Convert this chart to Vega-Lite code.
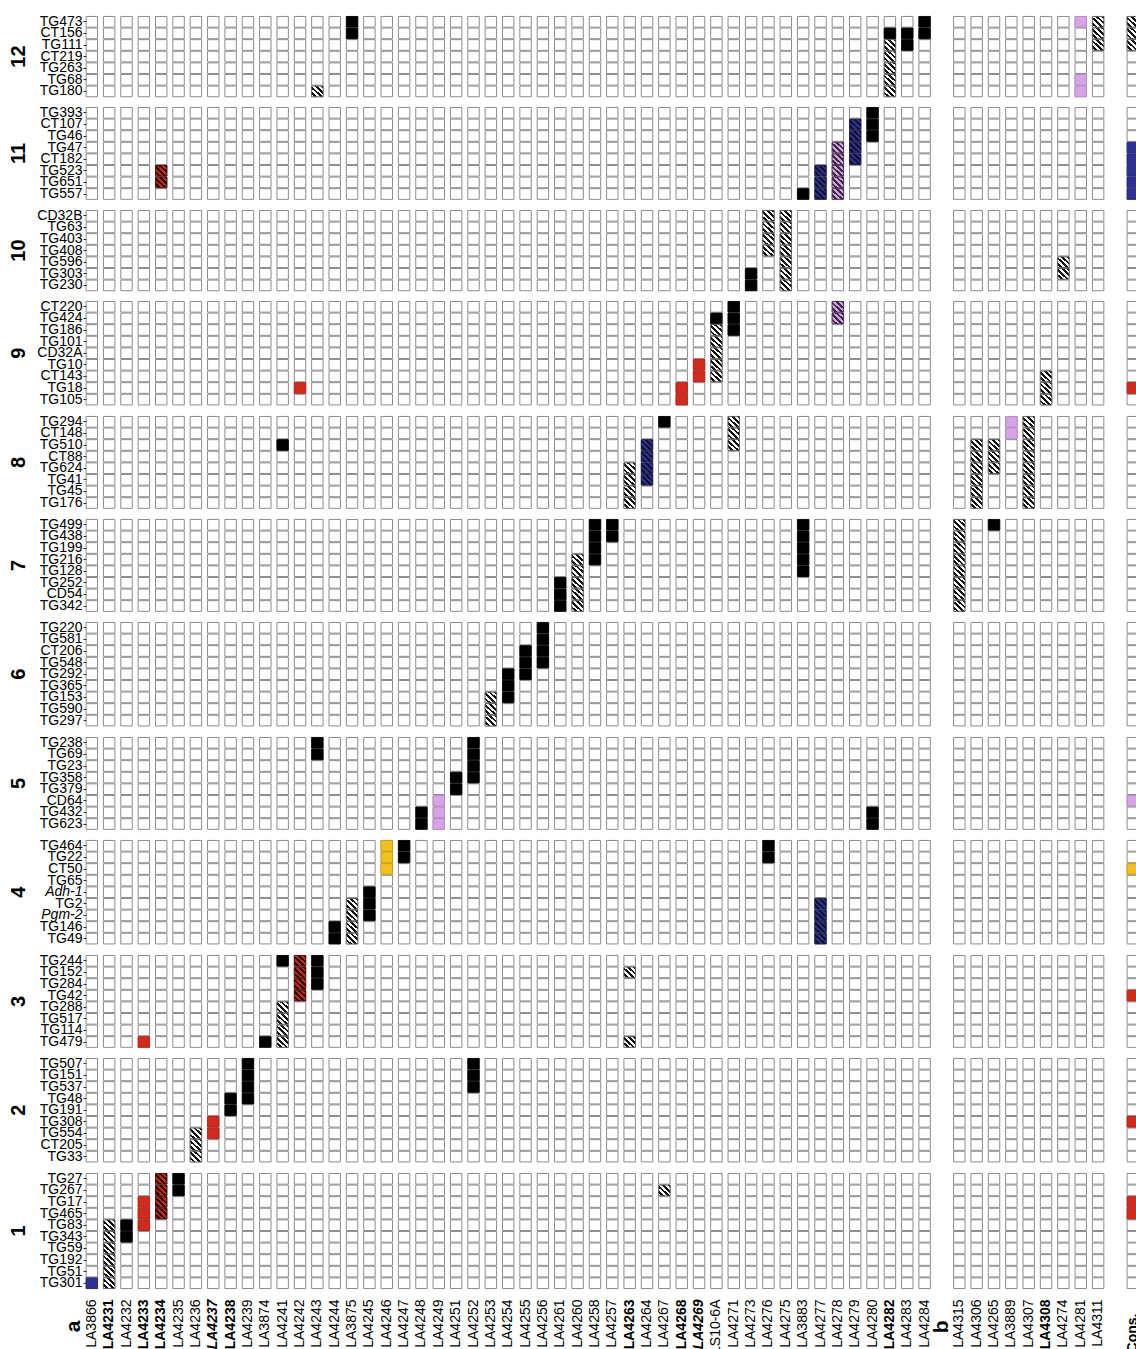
{
  "$schema": "https://vega.github.io/schema/vega-lite/v6.json",
  "padding": {"left": 9, "top": 14, "right": 0, "bottom": 0},
  "background": "white",
  "config": {"font": "Liberation Sans", "view": {"stroke": null}},
  "data": {"values": [
    {"chr":1,"m":"TG301","LA3866":"B","LA4231":"H"},
    {"chr":1,"m":"TG51","LA4231":"H"},
    {"chr":1,"m":"TG192","LA4231":"H"},
    {"chr":1,"m":"TG59","LA4231":"H"},
    {"chr":1,"m":"TG343","LA4231":"H","LA4232":"K"},
    {"chr":1,"m":"TG83","LA4231":"H","LA4232":"K","LA4233":"R"},
    {"chr":1,"m":"TG465","LA4233":"R","LA4234":"HR","Cons":"R"},
    {"chr":1,"m":"TG17","LA4233":"R","LA4234":"HR","Cons":"R"},
    {"chr":1,"m":"TG267","LA4234":"HR","LA4235":"K","LA4267":"H"},
    {"chr":1,"m":"TG27","LA4234":"HR","LA4235":"K"},
    {"chr":2,"m":"TG33","LA4236":"H"},
    {"chr":2,"m":"CT205","LA4236":"H"},
    {"chr":2,"m":"TG554","LA4236":"H","LA4237":"R"},
    {"chr":2,"m":"TG308","LA4237":"R","Cons":"R"},
    {"chr":2,"m":"TG191","LA4238":"K"},
    {"chr":2,"m":"TG48","LA4238":"K","LA4239":"K"},
    {"chr":2,"m":"TG537","LA4239":"K","LA4252":"K"},
    {"chr":2,"m":"TG151","LA4239":"K","LA4252":"K"},
    {"chr":2,"m":"TG507","LA4239":"K","LA4252":"K"},
    {"chr":3,"m":"TG479","LA4233":"R","LA3874":"K","LA4241":"H","LA4263":"H"},
    {"chr":3,"m":"TG114","LA4241":"H"},
    {"chr":3,"m":"TG517","LA4241":"H"},
    {"chr":3,"m":"TG288","LA4241":"H"},
    {"chr":3,"m":"TG42","LA4242":"HR","Cons":"R"},
    {"chr":3,"m":"TG284","LA4242":"HR","LA4243":"K"},
    {"chr":3,"m":"TG152","LA4242":"HR","LA4243":"K","LA4263":"H"},
    {"chr":3,"m":"TG244","LA4241":"K","LA4242":"HR","LA4243":"K"},
    {"chr":4,"m":"TG49","LA4244":"K","LA3875":"H","LA4277":"HB"},
    {"chr":4,"m":"TG146","LA4244":"K","LA3875":"H","LA4277":"HB"},
    {"chr":4,"m":"Pgm-2","LA3875":"H","LA4245":"K","LA4277":"HB"},
    {"chr":4,"m":"TG2","LA3875":"H","LA4245":"K","LA4277":"HB"},
    {"chr":4,"m":"Adh-1","LA4245":"K"},
    {"chr":4,"m":"TG65"},
    {"chr":4,"m":"CT50","LA4246":"Y","Cons":"Y"},
    {"chr":4,"m":"TG22","LA4246":"Y","LA4247":"K","LA4276":"K"},
    {"chr":4,"m":"TG464","LA4246":"Y","LA4247":"K","LA4276":"K"},
    {"chr":5,"m":"TG623","LA4248":"K","LA4249":"P","LA4280":"K"},
    {"chr":5,"m":"TG432","LA4248":"K","LA4249":"P","LA4280":"K"},
    {"chr":5,"m":"CD64","LA4249":"P","Cons":"P"},
    {"chr":5,"m":"TG379","LA4251":"K"},
    {"chr":5,"m":"TG358","LA4251":"K","LA4252":"K"},
    {"chr":5,"m":"TG23","LA4252":"K"},
    {"chr":5,"m":"TG69","LA4243":"K","LA4252":"K"},
    {"chr":5,"m":"TG238","LA4243":"K","LA4252":"K"},
    {"chr":6,"m":"TG297","LA4253":"H"},
    {"chr":6,"m":"TG590","LA4253":"H"},
    {"chr":6,"m":"TG153","LA4253":"H","LA4254":"K"},
    {"chr":6,"m":"TG365","LA4254":"K"},
    {"chr":6,"m":"TG292","LA4254":"K","LA4255":"K"},
    {"chr":6,"m":"TG548","LA4255":"K","LA4256":"K"},
    {"chr":6,"m":"CT206","LA4255":"K","LA4256":"K"},
    {"chr":6,"m":"TG581","LA4256":"K"},
    {"chr":6,"m":"TG220","LA4256":"K"},
    {"chr":7,"m":"TG342","LA4261":"K","LA4260":"H","LA4315":"H"},
    {"chr":7,"m":"CD54","LA4261":"K","LA4260":"H","LA4315":"H"},
    {"chr":7,"m":"TG252","LA4261":"K","LA4260":"H","LA4315":"H"},
    {"chr":7,"m":"TG128","LA4260":"H","LA3883":"K","LA4315":"H"},
    {"chr":7,"m":"TG216","LA4260":"H","LA4258":"K","LA3883":"K","LA4315":"H"},
    {"chr":7,"m":"TG199","LA4258":"K","LA3883":"K","LA4315":"H"},
    {"chr":7,"m":"TG438","LA4258":"K","LA4257":"K","LA3883":"K","LA4315":"H"},
    {"chr":7,"m":"TG499","LA4258":"K","LA4257":"K","LA3883":"K","LA4315":"H","LA4265":"K"},
    {"chr":8,"m":"TG176","LA4263":"H","LA4306":"H","LA4307":"H"},
    {"chr":8,"m":"TG45","LA4263":"H","LA4306":"H","LA4307":"H"},
    {"chr":8,"m":"TG41","LA4263":"H","LA4264":"HB","LA4306":"H","LA4307":"H"},
    {"chr":8,"m":"TG624","LA4263":"H","LA4264":"HB","LA4306":"H","LA4265":"H","LA4307":"H"},
    {"chr":8,"m":"CT88","LA4264":"HB","LA4306":"H","LA4265":"H","LA4307":"H"},
    {"chr":8,"m":"TG510","LA4241":"K","LA4264":"HB","LA4271":"H","LA4306":"H","LA4265":"H","LA4307":"H"},
    {"chr":8,"m":"CT148","LA4271":"H","LA3889":"P","LA4307":"H"},
    {"chr":8,"m":"TG294","LA4267":"K","LA4271":"H","LA3889":"P","LA4307":"H"},
    {"chr":9,"m":"TG105","LA4268":"R","LA4308":"H"},
    {"chr":9,"m":"TG18","LA4242":"R","LA4268":"R","LA4308":"H","Cons":"R"},
    {"chr":9,"m":"CT143","LA4269":"R","LS10-6A":"H","LA4308":"H"},
    {"chr":9,"m":"TG10","LA4269":"R","LS10-6A":"H"},
    {"chr":9,"m":"CD32A","LS10-6A":"H"},
    {"chr":9,"m":"TG101","LS10-6A":"H"},
    {"chr":9,"m":"TG186","LS10-6A":"H","LA4271":"K"},
    {"chr":9,"m":"TG424","LS10-6A":"K","LA4271":"K","LA4278":"HP"},
    {"chr":9,"m":"CT220","LA4271":"K","LA4278":"HP"},
    {"chr":10,"m":"TG230","LA4273":"K","LA4275":"H"},
    {"chr":10,"m":"TG303","LA4273":"K","LA4275":"H","LA4274":"H"},
    {"chr":10,"m":"TG596","LA4275":"H","LA4274":"H"},
    {"chr":10,"m":"TG408","LA4276":"H","LA4275":"H"},
    {"chr":10,"m":"TG403","LA4276":"H","LA4275":"H"},
    {"chr":10,"m":"TG63","LA4276":"H","LA4275":"H"},
    {"chr":10,"m":"CD32B","LA4276":"H","LA4275":"H"},
    {"chr":11,"m":"TG557","LA3883":"K","LA4277":"HB","LA4278":"HP","Cons":"B"},
    {"chr":11,"m":"TG651","LA4234":"HR","LA4277":"HB","LA4278":"HP","Cons":"B"},
    {"chr":11,"m":"TG523","LA4234":"HR","LA4277":"HB","LA4278":"HP","Cons":"B"},
    {"chr":11,"m":"CT182","LA4278":"HP","LA4279":"HB","Cons":"B"},
    {"chr":11,"m":"TG47","LA4278":"HP","LA4279":"HB","Cons":"B"},
    {"chr":11,"m":"TG46","LA4279":"HB","LA4280":"K"},
    {"chr":11,"m":"CT107","LA4279":"HB","LA4280":"K"},
    {"chr":11,"m":"TG393","LA4280":"K"},
    {"chr":12,"m":"TG180","LA4243":"H","LA4282":"H","LA4281":"P"},
    {"chr":12,"m":"TG68","LA4282":"H","LA4281":"P"},
    {"chr":12,"m":"TG263","LA4282":"H"},
    {"chr":12,"m":"CT219","LA4282":"H"},
    {"chr":12,"m":"TG111","LA4282":"H","LA4283":"K","LA4311":"H","Cons":"H"},
    {"chr":12,"m":"CT156","LA3875":"K","LA4282":"K","LA4283":"K","LA4284":"K","LA4311":"H","Cons":"H"},
    {"chr":12,"m":"TG473","LA3875":"K","LA4284":"K","LA4281":"P","LA4311":"H","Cons":"H"}
  ]},
  "transform": [
    {"fold": ["LA3866","LA4231","LA4232","LA4233","LA4234","LA4235","LA4236","LA4237","LA4238","LA4239","LA3874","LA4241","LA4242","LA4243","LA4244","LA3875","LA4245","LA4246","LA4247","LA4248","LA4249","LA4251","LA4252","LA4253","LA4254","LA4255","LA4256","LA4261","LA4260","LA4258","LA4257","LA4263","LA4264","LA4267","LA4268","LA4269","LS10-6A","LA4271","LA4273","LA4276","LA4275","LA3883","LA4277","LA4278","LA4279","LA4280","LA4282","LA4283","LA4284","LA4315","LA4306","LA4265","LA3889","LA4307","LA4308","LA4274","LA4281","LA4311","Cons"], "as": ["acc","v"]}
  ],
  "facet": {
    "row": {
      "field": "chr", "type": "ordinal", "sort": "descending", "title": null,
      "header": {"labelFontSize": 20, "labelFontWeight": "bold", "labelAngle": -90, "labelPadding": -3, "labelColor": "black"}
    }
  },
  "spacing": 7,
  "resolve": {"scale": {"y": "independent"}},
  "spec": {
    "width": {"step": 17.35},
    "height": {"step": 11.6},
    "encoding": {
      "x": {
        "field": "acc", "type": "nominal", "title": null,
        "scale": {
          "domain": ["a","LA3866","LA4231","LA4232","LA4233","LA4234","LA4235","LA4236","LA4237","LA4238","LA4239","LA3874","LA4241","LA4242","LA4243","LA4244","LA3875","LA4245","LA4246","LA4247","LA4248","LA4249","LA4251","LA4252","LA4253","LA4254","LA4255","LA4256","LA4261","LA4260","LA4258","LA4257","LA4263","LA4264","LA4267","LA4268","LA4269","LS10-6A","LA4271","LA4273","LA4276","LA4275","LA3883","LA4277","LA4278","LA4279","LA4280","LA4282","LA4283","LA4284","b","LA4315","LA4306","LA4265","LA3889","LA4307","LA4308","LA4274","LA4281","LA4311","_","Cons"],
          "paddingInner": 0.34, "paddingOuter": 0.1
        },
        "axis": {
          "orient": "bottom", "domain": false, "ticks": false, "labelAngle": 270, "labelPadding": 9,
          "labelOverlap": false, "labelColor": "black", "labelFontSize": {"condition": {"test": "datum.value == 'a' || datum.value == 'b'", "value": 21}, "value": 14},
          "labelFontWeight": {"condition": {"test": "indexof(['a','b','Cons','LA4231','LA4233','LA4234','LA4237','LA4238','LA4263','LA4268','LA4269','LA4282','LA4308'], datum.value) >= 0", "value": "bold"}, "value": "normal"},
          "labelFontStyle": {"condition": {"test": "datum.value == 'LA4237' || datum.value == 'LA4269'", "value": "italic"}, "value": "normal"},
          "labelExpr": "datum.value == 'a' ? 'a\\u2003\\u200b' : datum.value == 'b' ? 'b\\u2003\\u200b' : datum.value == '_' ? '' : datum.value == 'Cons' ? 'Cons.\\u2003\\u200b' : datum.value"
        }
      },
      "y": {
        "field": "m", "type": "nominal", "title": null,
        "sort": ["TG473","CT156","TG111","CT219","TG263","TG68","TG180","TG393","CT107","TG46","TG47","CT182","TG523","TG651","TG557","CD32B","TG63","TG403","TG408","TG596","TG303","TG230","CT220","TG424","TG186","TG101","CD32A","TG10","CT143","TG18","TG105","TG294","CT148","TG510","CT88","TG624","TG41","TG45","TG176","TG499","TG438","TG199","TG216","TG128","TG252","CD54","TG342","TG220","TG581","CT206","TG548","TG292","TG365","TG153","TG590","TG297","TG238","TG69","TG23","TG358","TG379","CD64","TG432","TG623","TG464","TG22","CT50","TG65","Adh-1","TG2","Pgm-2","TG146","TG49","TG244","TG152","TG284","TG42","TG288","TG517","TG114","TG479","TG507","TG151","TG537","TG48","TG191","TG308","TG554","CT205","TG33","TG27","TG267","TG17","TG465","TG83","TG343","TG59","TG192","TG51","TG301"],
        "scale": {"paddingInner": 0.08, "paddingOuter": 0.04},
        "axis": {
          "domain": false, "tickSize": 3, "tickColor": "#333", "labelPadding": 1, "offset": -19,
          "labelOverlap": false, "labelFontSize": 14, "labelColor": "black",
          "labelFontStyle": {"condition": {"test": "datum.value == 'Pgm-2' || datum.value == 'Adh-1'", "value": "italic"}, "value": "normal"}
        }
      }
    },
    "layer": [
      {"mark": {"type": "rect", "fill": "white", "stroke": "#8c8c8c", "strokeWidth": 1}},
      {
        "transform": [{"filter": "indexof(['K','R','B','P','Y'], datum.v) >= 0"}],
        "mark": {"type": "rect", "strokeWidth": 0.8},
        "encoding": {
          "color": {"field": "v", "type": "nominal", "legend": null, "scale": {"domain": ["K","R","B","P","Y"], "range": ["#000000","#d42a1e","#2e3192","#d8a2e6","#f2c21c"]}},
          "stroke": {"field": "v", "type": "nominal", "legend": null, "scale": {"domain": ["K","R","B","P","Y"], "range": ["#000000","#b02015","#23266f","#b98ac8","#caa010"]}}
        }
      },
      {
        "transform": [{"filter": "datum.v == 'H'"}],
        "mark": {"type": "rect", "stroke": "#555555", "strokeWidth": 0.8,
          "fill": {"gradient": "linear", "x1": 0, "y1": 1, "x2": 1, "y2": 0, "stops": [
            {"offset": 0, "color": "white"}, {"offset": 0.125, "color": "white"}, {"offset": 0.125, "color": "#111111"}, {"offset": 0.25, "color": "#111111"},
            {"offset": 0.25, "color": "white"}, {"offset": 0.375, "color": "white"}, {"offset": 0.375, "color": "#111111"}, {"offset": 0.5, "color": "#111111"},
            {"offset": 0.5, "color": "white"}, {"offset": 0.625, "color": "white"}, {"offset": 0.625, "color": "#111111"}, {"offset": 0.75, "color": "#111111"},
            {"offset": 0.75, "color": "white"}, {"offset": 0.875, "color": "white"}, {"offset": 0.875, "color": "#111111"}, {"offset": 1, "color": "#111111"}
          ]}
        }
      },
      {
        "transform": [{"filter": "datum.v == 'HR'"}],
        "mark": {"type": "rect", "stroke": "#3a0c08", "strokeWidth": 0.8,
          "fill": {"gradient": "linear", "x1": 0, "y1": 1, "x2": 1, "y2": 0, "stops": [
            {"offset": 0, "color": "#c4281d"}, {"offset": 0.125, "color": "#c4281d"}, {"offset": 0.125, "color": "#2a0905"}, {"offset": 0.25, "color": "#2a0905"},
            {"offset": 0.25, "color": "#c4281d"}, {"offset": 0.375, "color": "#c4281d"}, {"offset": 0.375, "color": "#2a0905"}, {"offset": 0.5, "color": "#2a0905"},
            {"offset": 0.5, "color": "#c4281d"}, {"offset": 0.625, "color": "#c4281d"}, {"offset": 0.625, "color": "#2a0905"}, {"offset": 0.75, "color": "#2a0905"},
            {"offset": 0.75, "color": "#c4281d"}, {"offset": 0.875, "color": "#c4281d"}, {"offset": 0.875, "color": "#2a0905"}, {"offset": 1, "color": "#2a0905"}
          ]}
        }
      },
      {
        "transform": [{"filter": "datum.v == 'HB'"}],
        "mark": {"type": "rect", "stroke": "#14163f", "strokeWidth": 0.8,
          "fill": {"gradient": "linear", "x1": 0, "y1": 1, "x2": 1, "y2": 0, "stops": [
            {"offset": 0, "color": "#2e3192"}, {"offset": 0.125, "color": "#2e3192"}, {"offset": 0.125, "color": "#101230"}, {"offset": 0.25, "color": "#101230"},
            {"offset": 0.25, "color": "#2e3192"}, {"offset": 0.375, "color": "#2e3192"}, {"offset": 0.375, "color": "#101230"}, {"offset": 0.5, "color": "#101230"},
            {"offset": 0.5, "color": "#2e3192"}, {"offset": 0.625, "color": "#2e3192"}, {"offset": 0.625, "color": "#101230"}, {"offset": 0.75, "color": "#101230"},
            {"offset": 0.75, "color": "#2e3192"}, {"offset": 0.875, "color": "#2e3192"}, {"offset": 0.875, "color": "#101230"}, {"offset": 1, "color": "#101230"}
          ]}
        }
      },
      {
        "transform": [{"filter": "datum.v == 'HP'"}],
        "mark": {"type": "rect", "stroke": "#3d2a45", "strokeWidth": 0.8,
          "fill": {"gradient": "linear", "x1": 0, "y1": 1, "x2": 1, "y2": 0, "stops": [
            {"offset": 0, "color": "#d4a0e2"}, {"offset": 0.125, "color": "#d4a0e2"}, {"offset": 0.125, "color": "#3a2a44"}, {"offset": 0.25, "color": "#3a2a44"},
            {"offset": 0.25, "color": "#d4a0e2"}, {"offset": 0.375, "color": "#d4a0e2"}, {"offset": 0.375, "color": "#3a2a44"}, {"offset": 0.5, "color": "#3a2a44"},
            {"offset": 0.5, "color": "#d4a0e2"}, {"offset": 0.625, "color": "#d4a0e2"}, {"offset": 0.625, "color": "#3a2a44"}, {"offset": 0.75, "color": "#3a2a44"},
            {"offset": 0.75, "color": "#d4a0e2"}, {"offset": 0.875, "color": "#d4a0e2"}, {"offset": 0.875, "color": "#3a2a44"}, {"offset": 1, "color": "#3a2a44"}
          ]}
        }
      }
    ]
  }
}
